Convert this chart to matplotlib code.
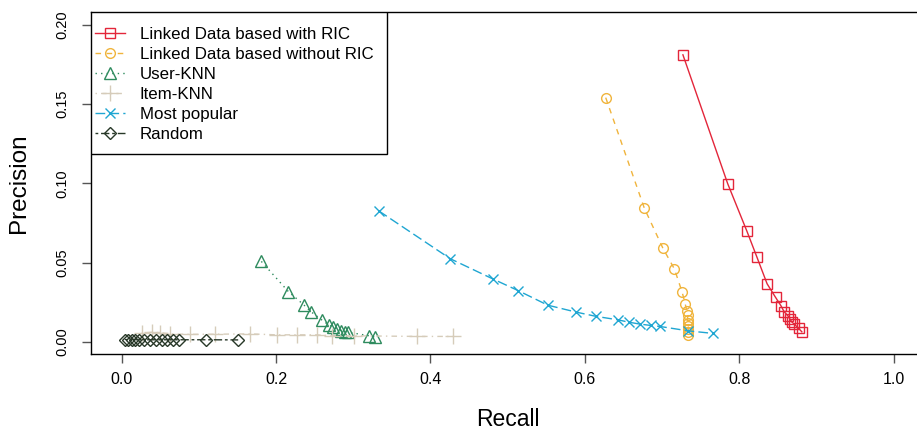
import matplotlib
matplotlib.use('Agg')
import matplotlib.pyplot as plt
from matplotlib.patches import Rectangle

plt.rcParams['font.family'] = ['Liberation Sans', 'DejaVu Sans']

# Recall / precision pairs
ric_recall = [0.727, 0.785, 0.810, 0.823, 0.836, 0.847, 0.854, 0.858, 0.863, 0.866, 0.868, 0.871, 0.877, 0.881]
ric_prec = [0.181, 0.0997, 0.0696, 0.0532, 0.0366, 0.028, 0.0227, 0.019, 0.0164, 0.0141, 0.0125, 0.0113, 0.0084, 0.0063]

noric_recall = [0.627, 0.677, 0.701, 0.716, 0.726, 0.730, 0.732, 0.733, 0.733, 0.734, 0.734, 0.734, 0.734, 0.734]
noric_prec = [0.154, 0.0843, 0.0591, 0.0459, 0.0313, 0.0238, 0.0196, 0.0166, 0.0139, 0.0118, 0.0097, 0.0080, 0.0065, 0.0044]

uknn_recall = [0.181, 0.216, 0.236, 0.245, 0.259, 0.268, 0.274, 0.279, 0.2845, 0.2896, 0.293, 0.3207, 0.3285]
uknn_prec = [0.0507, 0.0317, 0.0233, 0.0191, 0.0139, 0.0107, 0.0093, 0.0080, 0.0071, 0.0065, 0.0061, 0.0038, 0.0030]

iknn_recall = [0.026, 0.039, 0.050, 0.063, 0.089, 0.121, 0.166, 0.201, 0.227, 0.253, 0.273, 0.301, 0.382, 0.429]
iknn_prec = [0.0055, 0.0060, 0.0058, 0.0050, 0.0047, 0.0048, 0.0050, 0.0044, 0.0044, 0.0044, 0.0038, 0.0038, 0.0034, 0.0034]

pop_recall = [0.333, 0.4257, 0.4806, 0.514, 0.552, 0.589, 0.615, 0.6425, 0.6567, 0.671, 0.6856, 0.697, 0.734, 0.766]
pop_prec = [0.0826, 0.0524, 0.0397, 0.0322, 0.0231, 0.0187, 0.016, 0.0139, 0.0124, 0.0112, 0.0103, 0.0097, 0.0069, 0.0053]

rand_recall = [0.0043, 0.0085, 0.013, 0.017, 0.0228, 0.029, 0.0367, 0.0444, 0.0518, 0.0583, 0.066, 0.0746, 0.109, 0.151]
rand_prec = [0.0014, 0.0014, 0.0013, 0.0013, 0.0013, 0.0013, 0.0013, 0.0013, 0.0013, 0.0013, 0.0013, 0.0013, 0.0013, 0.0012]

fig = plt.figure(figsize=(9.17, 4.32), dpi=100)
ax = fig.add_axes([0.0989, 0.1794, 0.9094, 0.7928])

ms = 7
ax.plot(ric_recall, ric_prec, color='#E3263A', lw=1, marker='s', ms=ms, mfc='none', mew=1,
        label='Linked Data based with RIC')
ax.plot(noric_recall, noric_prec, color='#F0B43C', lw=1, dashes=(4, 4), marker='o', ms=ms, mfc='none', mew=1,
        label='Linked Data based without RIC')
ax.plot(uknn_recall, uknn_prec, color='#2E8B5E', lw=1, dashes=(1, 3), marker='^', ms=ms + 1, mfc='none', mew=1,
        label='User-KNN')
ax.plot(iknn_recall, iknn_prec, color='#D6CCBA', lw=1, dashes=(1, 3, 4, 3), marker='+', ms=ms + 4, mew=1,
        label='Item-KNN')
ax.plot(pop_recall, pop_prec, color='#1FA6D2', lw=1, dashes=(7, 3), marker='x', ms=ms, mew=1,
        label='Most popular')
ax.plot(rand_recall, rand_prec, color='#283828', lw=1, dashes=(2, 2, 6, 2), marker='D', ms=ms - 0.5, mfc='none', mew=1,
        label='Random')

ax.set_xlim(-0.04, 1.04)
ax.set_ylim(-0.008, 0.208)
ax.set_xticks([0.0, 0.2, 0.4, 0.6, 0.8, 1.0])
ax.set_xticklabels(['0.0', '0.2', '0.4', '0.6', '0.8', '1.0'])
ax.set_yticks([0.0, 0.05, 0.10, 0.15, 0.20])
ax.set_yticklabels(['0.00', '0.05', '0.10', '0.15', '0.20'], rotation=90, va='center')
ax.tick_params(axis='both', direction='out', length=6.5, width=1, color='#555555')
ax.tick_params(axis='x', pad=6, labelsize=11.5)
ax.tick_params(axis='y', pad=9, labelsize=10.5)

for s in ['left', 'bottom', 'top', 'right']:
    ax.spines[s].set_linewidth(1)
    ax.spines[s].set_color('black')

ax.set_xlabel('Recall', fontsize=16.5, labelpad=15)
ax.set_ylabel('Precision', fontsize=17.5, labelpad=18)

# legend box drawn by hand (R style: flush with the top-left corner)
ax.add_patch(Rectangle((0, 0.5854), 0.3553, 0.4146, transform=ax.transAxes,
                       facecolor='white', edgecolor='black', lw=1, zorder=5))
leg = ax.legend(loc='upper left', bbox_to_anchor=(0.005, 0.957), borderaxespad=0, borderpad=0,
                fontsize=12.2, frameon=False, handlelength=1.75, handletextpad=0.9,
                labelspacing=0.3, numpoints=1)
leg.set_zorder(6)

fig.savefig('out.png', dpi=100, facecolor='white')
